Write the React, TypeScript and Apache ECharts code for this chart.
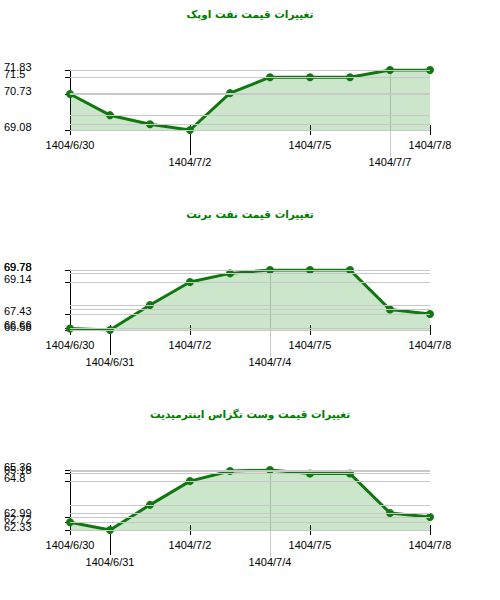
import { useEffect, useRef } from "react";
import * as echarts from "echarts";

const dates = ["1404/6/30", "1404/6/31", "1404/7/1", "1404/7/2", "1404/7/3", "1404/7/4", "1404/7/5", "1404/7/6", "1404/7/7", "1404/7/8"];

const opecTitle = "تغییرات قیمت نفت اوپک";
const opecValues = [70.73, 69.76, 69.34, 69.08, 70.77, 71.5, 71.5, 71.5, 71.83, 71.83];
const opecLabels = ["1404/6/30", "1404/7/2", "1404/7/5", "1404/7/7", "1404/7/8"];
const opecLower = ["1404/7/2", "1404/7/7"];

const brentTitle = "تغییرات قیمت نفت برنت";
const brentValues = [66.66, 66.58, 67.91, 69.14, 69.6, 69.78, 69.78, 69.78, 67.67, 67.43];
const brentLabels = ["1404/6/30", "1404/6/31", "1404/7/2", "1404/7/4", "1404/7/5", "1404/7/8"];
const brentLower = ["1404/6/31", "1404/7/4"];

const wtiTitle = "تغییرات قیمت وست تگزاس اینترمیدیت";
const wtiValues = [62.72, 62.33, 63.6, 64.8, 65.31, 65.36, 65.18, 65.18, 63.19, 62.99];
const wtiLabels = ["1404/6/30", "1404/6/31", "1404/7/2", "1404/7/4", "1404/7/5", "1404/7/8"];
const wtiLower = ["1404/6/31", "1404/7/4"];

const charts = [
  { title: opecTitle, values: opecValues, labels: opecLabels, lower: opecLower },
  { title: brentTitle, values: brentValues, labels: brentLabels, lower: brentLower },
  { title: wtiTitle, values: wtiValues, labels: wtiLabels, lower: wtiLower },
];

const green = "#0f780f";
const font = "Liberation Sans";
const labelStyle = { fontSize: 11, fontFamily: font, color: "#000", hideOverlap: false, showMinLabel: true, showMaxLabel: true };

export default function App(): JSX.Element {
  const chartRef = useRef<HTMLDivElement>(null);
  useEffect(() => {
    const myChart = echarts.init(chartRef.current, null, { renderer: "svg" });
    const xAxis: any[] = [];
    const yAxis: any[] = [];
    const series: any[] = [];
    charts.forEach((c, i) => {
      const maxIdx = c.values.indexOf(Math.max(...c.values));
      const minV = Math.min(...c.values);
      const maxV = Math.max(...c.values);
      const ticks = c.labels.map((d) => c.values[dates.indexOf(d)]);
      const upper = (v: string) => c.labels.includes(v) && !c.lower.includes(v);
      const base = { type: "category", data: dates, boundaryGap: false, gridIndex: i, position: "bottom" };
      // main axis: upper row of labels, short ticks
      xAxis.push({
        ...base,
        axisLine: { show: true, lineStyle: { color: "#333", width: 1 } },
        axisTick: { show: true, length: 5, interval: (_: number, v: string) => upper(v), lineStyle: { color: "#000" } },
        axisLabel: { ...labelStyle, interval: (_: number, v: string) => upper(v), margin: 9 },
        splitLine: { show: false },
      });
      // ticks crossing into the plot
      xAxis.push({
        ...base,
        axisLine: { show: false }, axisLabel: { show: false }, splitLine: { show: false },
        axisTick: { show: true, inside: true, length: 5, interval: (idx: number, v: string) => c.labels.includes(v) && idx !== maxIdx, lineStyle: { color: "#000" } },
      });
      // lower row of labels with long ticks
      xAxis.push({
        ...base,
        axisLine: { show: false }, splitLine: { show: false },
        axisTick: { show: true, length: 25, interval: (idx: number, v: string) => c.lower.includes(v) && idx !== maxIdx, lineStyle: { color: "#000" } },
        axisLabel: { ...labelStyle, interval: (_: number, v: string) => c.lower.includes(v), margin: 26 },
      });
      // grey line at the highest point
      xAxis.push({
        ...base,
        axisLine: { show: false }, axisLabel: { show: false },
        axisTick: { show: true, length: 27, interval: (idx: number) => idx === maxIdx, lineStyle: { color: "#ccc" } },
        splitLine: { show: true, interval: (idx: number) => idx === maxIdx, lineStyle: { color: "#ccc", width: 1 } },
      });
      // the lowest label sits on its own axis so that it is never dropped
      const groups = [ticks.filter((v) => v !== minV), ticks.filter((v) => v === minV)];
      groups.forEach((vals, k) => {
        yAxis.push({
          type: "value", gridIndex: i, min: minV, max: maxV, position: "left",
          axisLine: { show: k === 0, lineStyle: { color: "#000" } },
          axisTick: { show: true, length: 5, customValues: vals, lineStyle: { color: "#000" } },
          axisLabel: { ...labelStyle, customValues: vals, align: "left", verticalAlign: "bottom", lineHeight: 7, margin: 66 },
          splitLine: { show: false },
        });
      });
      series.push({
        type: "line", xAxisIndex: i * 4, yAxisIndex: i * 2, data: c.values,
        symbol: "circle", symbolSize: 8,
        lineStyle: { color: green, width: 3 },
        itemStyle: { color: green },
        areaStyle: { color: "rgba(0,128,0,0.2)", opacity: 1, origin: "start" },
        markLine: {
          silent: true, symbol: ["none", "none"], label: { show: false },
          lineStyle: { color: "#c8c8c8", width: 1, type: "solid" },
          data: Array.from(new Set(c.values)).map((v) => ({ yAxis: v })),
        },
      });
    });
    const option = {
      animation: false,
      title: charts.map((c, i) => ({
        text: c.title, left: "center", top: 3 + 200 * i,
        textStyle: { color: "#007a00", fontSize: 10.5, fontWeight: "bold", fontFamily: "DejaVu Sans" },
      })),
      grid: charts.map((_, i) => ({ left: 70, width: 360, top: 70 + 200 * i, height: 60 })),
      xAxis,
      yAxis,
      series,
    };
    myChart.setOption(option);
    return () => {
      myChart.dispose();
    };
  }, []);

  return <div ref={chartRef} style={{ position: "absolute", left: 0, top: 0, width: 500, height: 600 }}></div>;
}
